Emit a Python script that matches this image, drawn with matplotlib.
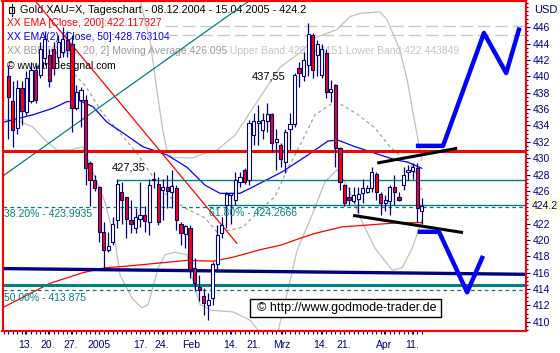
import numpy as np
import matplotlib.pyplot as plt
from matplotlib.patches import Rectangle
from matplotlib.transforms import Affine2D

plt.rcParams['font.family'] = ['Liberation Sans', 'DejaVu Sans']

W, H = 560, 353
NAVY = '#000080'
TEAL = '#008080'

# daily candles 08.12.2004 - 15.04.2005
opens = [440.0, 437.0, 433.7, 438.6, 435.7, 437.0, 440.8, 440.2, 442.2, 442.6,
         443.4, 442.4, 443.0, 444.4, 444.0, 436.1, 437.1, 437.1, 429.4, 427.3,
         426.5, 421.0, 418.8, 419.8, 422.4, 425.9, 425.2, 422.4, 421.4, 422.6,
         423.0, 422.2, 427.3, 426.8, 426.1, 426.5, 425.9, 426.3, 422.0, 420.7,
         421.4, 416.6, 414.2, 413.1, 412.0, 412.9, 417.1, 420.8, 424.3, 425.5,
         424.9, 427.1, 428.6, 427.3, 432.8, 434.3, 433.4, 434.5, 435.4, 432.0,
         431.6, 429.5, 433.6, 434.2, 441.0, 440.0, 441.4, 445.0, 442.6, 440.2,
         442.8, 438.1, 438.9, 431.3, 426.7, 425.3, 424.7, 425.0, 425.7, 425.9,
         426.3, 428.1, 425.6, 424.5, 424.7, 426.5, 425.3, 426.7, 428.3, 428.4,
         428.8, 423.5]
highs = [441.4, 439.4, 439.6, 439.4, 440.6, 441.8, 441.4, 444.2, 445.5, 443.4,
         444.2, 445.1, 446.0, 445.5, 445.1, 438.9, 438.7, 437.7, 429.6, 427.9,
         426.6, 422.2, 421.0, 422.8, 427.5, 427.1, 425.3, 424.9, 423.9, 427.1,
         424.1, 427.5, 428.3, 427.7, 427.5, 427.9, 428.6, 426.7, 422.2, 421.8,
         421.8, 417.8, 415.7, 414.1, 413.5, 417.3, 421.8, 422.8, 425.9, 425.7,
         428.3, 428.3, 428.8, 434.7, 435.5, 436.5, 435.5, 436.7, 435.5, 433.6,
         431.8, 433.6, 435.5, 440.4, 441.8, 443.0, 446.5, 445.3, 444.4, 443.9,
         443.4, 439.6, 439.1, 431.4, 426.9, 426.5, 426.5, 426.5, 427.5, 426.7,
         428.9, 428.3, 425.9, 425.5, 426.7, 427.9, 425.9, 428.9, 429.2, 429.4,
         429.4, 425.1]
lows = [432.4, 431.4, 433.0, 434.1, 435.3, 436.8, 436.8, 439.8, 441.4, 438.7,
        440.2, 441.8, 442.4, 442.4, 433.2, 435.9, 433.8, 426.7, 424.1, 426.0,
        419.8, 416.3, 418.5, 419.4, 421.4, 422.0, 420.2, 420.8, 420.8, 421.6,
        421.0, 420.6, 426.3, 421.8, 422.4, 423.9, 423.9, 421.2, 419.4, 419.0,
        415.3, 413.7, 412.5, 410.8, 410.2, 412.0, 416.1, 420.2, 421.5, 422.0,
        424.3, 426.5, 426.9, 426.7, 431.6, 431.6, 432.4, 433.2, 430.8, 428.6,
        428.9, 428.2, 431.0, 433.8, 438.7, 439.4, 440.0, 439.8, 440.0, 439.8,
        437.3, 436.9, 428.9, 426.1, 424.1, 424.3, 424.5, 423.3, 424.5, 425.7,
        425.9, 424.9, 423.1, 423.5, 423.1, 424.3, 424.7, 426.1, 427.3, 427.5,
        422.2, 422.0]
closes = [437.5, 433.4, 438.6, 435.8, 439.8, 440.8, 437.1, 443.4, 444.6, 439.4,
          441.0, 444.2, 444.6, 443.2, 436.1, 438.1, 438.3, 428.8, 427.3, 426.3,
          421.0, 418.8, 419.2, 422.0, 426.9, 424.9, 422.6, 422.0, 422.8, 423.0,
          422.3, 426.7, 427.4, 422.2, 426.5, 426.0, 426.6, 422.4, 420.8, 421.7,
          416.5, 414.7, 413.9, 412.3, 412.7, 417.1, 420.6, 421.8, 425.6, 425.7,
          427.3, 427.7, 427.1, 434.3, 434.5, 434.5, 434.7, 435.4, 431.8, 432.4,
          429.9, 433.2, 434.2, 440.2, 440.4, 442.0, 445.2, 440.8, 444.0, 443.4,
          438.1, 438.5, 431.2, 427.1, 424.5, 424.9, 425.5, 425.6, 426.3, 426.3,
          428.3, 425.9, 424.5, 424.9, 426.5, 425.9, 424.9, 427.9, 428.5, 428.9,
          423.9, 424.2]

# indicator curves (bar index, price)
ema200_x = [-1.0, 9.2, 16.4, 21.3, 26.1, 39.3, 45.1, 49.5, 55.4, 60.2, 64.2, 67.5, 73.5, 78.5, 85.8, 91.0]
ema200_y = [411.8, 414.7, 416.0, 416.6, 416.8, 417.5, 417.4, 417.9, 418.8, 419.4, 420.2, 420.8, 421.6, 421.8, 422.1, 422.12]
ema50_x = [-1.0, 5.4, 9.8, 12.9, 15.8, 18.6, 21.7, 25.2, 29.6, 34.9, 39.3, 43.3, 46.6, 51.0, 53.9,
           60.2, 66.0, 70.4, 72.6, 76.3, 80.7, 85.1, 88.0, 91.0]
ema50_y = [434.4, 435.3, 436.1, 436.9, 437.0, 436.3, 434.4, 433.1, 431.4, 430.4, 428.9, 426.7, 425.7, 425.7, 426.5,
           428.3, 430.4, 432.1, 432.2, 431.4, 430.6, 429.8, 429.5, 428.76]
bb_up_x = [25.7, 29.0, 31.2, 32.7, 34.0, 34.9, 36.0, 40.4, 43.3, 45.5, 49.9, 55.0, 59.8, 64.2, 67.5,
           72.3, 75.2, 77.4, 81.8, 83.4, 86.2, 87.8, 89.1, 90.2, 91.0]
bb_up_y = [453.0, 449.3, 444.4, 438.3, 433.4, 431.0, 430.1, 430.0, 430.6, 430.8, 432.8, 437.1, 441.1, 442.9, 444.7,
           445.7, 447.3, 447.7, 447.9, 446.9, 443.2, 439.6, 435.5, 432.2, 429.75]
bb_lo_x = [-1.0, 2.6, 5.4, 8.1, 10.7, 13.6, 16.4, 18.4, 21.3, 23.5, 24.6, 27.2, 29.4, 30.8, 33.0, 34.5,
           36.7, 39.3, 40.7, 42.2, 44.8, 49.5, 53.2, 55.8, 59.2, 60.5, 63.6, 66.9, 69.7, 72.4,
           74.8, 77.9, 80.7, 84.5, 86.7, 88.9, 90.2, 91.0]
bb_lo_y = [434.7, 434.5, 433.8, 432.2, 431.0, 431.0, 431.4, 428.6, 424.6, 419.8, 415.7, 412.9, 411.7, 412.1, 416.6, 418.2,
           418.5, 418.2, 414.9, 412.1, 411.4, 411.2, 410.2, 408.4, 408.4, 411.4, 418.8, 423.1, 427.1, 428.6,
           426.4, 422.2, 419.0, 416.3, 416.6, 419.0, 421.0, 422.44]
bb_ma_x = [13.6, 16.9, 20.6, 25.0, 28.6, 31.6, 34.5, 38.9, 43.3, 45.9, 48.8, 51.7, 54.7, 58.7, 61.6,
           64.6, 67.5, 71.3, 73.5, 77.0, 80.7, 84.0, 89.1, 91.0]
bb_ma_y = [440.8, 438.9, 435.6, 432.8, 430.4, 427.9, 425.7, 423.9, 422.7, 421.0, 421.2, 421.6, 423.3, 425.3, 428.8,
           432.0, 435.3, 436.7, 436.5, 435.3, 433.7, 431.4, 428.9, 426.1]

# drawn lines and projections
red_trend = ([5.8, 50.3], [449.3, 419.6])
teal_trend = ([-1.5, 53.2], [427.7, 449.3])
chan_up = ([81.2, 98.8], [429.4, 431.2])
chan_lo = ([75.9, 100.1], [423.0, 420.9])
proj_up = ([90.2, 95.7, 104.7, 109.6, 112.4], [431.5, 431.5, 445.3, 440.4, 445.7])
proj_lo = ([90.6, 94.8, 101.0, 104.3], [421.0, 421.0, 413.6, 417.8])
navy_line = ([-1.3, 114.0], [416.5, 415.8])
red_level = 430.9
teal_level = 414.55
high_level = 427.35
fib382, fib50, fib618 = 423.9935, 413.875, 424.2666
grey_levels = [446.2, 445.0]
last_price = 424.2

tick_pos = [3.7, 8.7, 13.8, 19.9, 29.0, 33.8, 40.3, 48.9, 54.0, 60.2, 68.8, 73.8, 82.7, 88.9]
tick_lab = ['13.', '20.', '27.', '2005', '17.', '24.', 'Feb', '14.', '21.', 'Mrz', '14.', '21.', 'Apr', '11.']

fig = plt.figure(figsize=(W / 100, H / 100), dpi=100)
ax = fig.add_axes([2.5 / W, 1 - 331 / H, 523.5 / W, 330.5 / H])
ax.set_xlim(-1.28, 113.96)
ax.set_ylim(408.87, 449.27)
px = Affine2D().scale(1 / W, -1 / H).translate(0, 1) + fig.transFigure

# bands and averages
ax.plot(bb_up_x, bb_up_y, color='#c0c0c0', lw=0.9, zorder=2)
ax.plot(bb_lo_x, bb_lo_y, color='#c0c0c0', lw=0.9, zorder=2)
ax.plot(bb_ma_x, bb_ma_y, color='#a0a0a0', lw=0.9, ls=(0, (2.5, 2.5)), zorder=2)
ax.plot(ema200_x, ema200_y, color='red', lw=0.9, zorder=2.2)
ax.plot(ema50_x, ema50_y, color='blue', lw=0.9, zorder=2.2)

# horizontal levels
for g in grey_levels:
    ax.plot([34.5, 114], [g, g], color='#c8c8c8', lw=1, ls=(0, (9, 3.5)), zorder=2)
ax.axhline(red_level, color='red', lw=2.2, zorder=2.5)
ax.axhline(teal_level, color=TEAL, lw=2.2, zorder=2.5)
ax.plot(*navy_line, color=NAVY, lw=2.4, zorder=2.5)
ax.plot([24.2, 114], [high_level, high_level], color=TEAL, lw=1, zorder=2.5)
ax.axhline(fib382, color=TEAL, lw=0.9, ls=(0, (3, 2.5)), zorder=2.5)
ax.axhline(fib50, color=TEAL, lw=0.9, ls=(0, (3, 2.5)), zorder=2.5)
ax.plot([44.0, 114], [fib618, fib618], color=TEAL, lw=1, zorder=2.5)
ax.plot(*red_trend, color='red', lw=0.9, zorder=2.3)
ax.plot(*teal_trend, color=TEAL, lw=0.9, zorder=2.3)

# candles
o = np.array(opens)
c = np.array(closes)
idx = np.arange(len(c))
up = c >= o
ax.vlines(idx, lows, highs, color=NAVY, lw=0.9, zorder=4)
ax.bar(idx, np.maximum(np.abs(c - o), 0.15), bottom=np.minimum(o, c), width=0.7,
       color=np.where(up, 'white', 'red'), edgecolor=NAVY, linewidth=0.8, zorder=5)

# channel and projections
ax.plot(*chan_up, color='black', lw=2.2, zorder=6, solid_capstyle='butt')
ax.plot(*chan_lo, color='black', lw=2.2, zorder=6, solid_capstyle='butt')
ax.plot(*proj_up, color='blue', lw=3.2, zorder=6)
ax.plot(*proj_lo, color='blue', lw=3.2, zorder=6)

# labels on the chart
ax.text(53.6, 440.0, '437,55', fontsize=8, va='center', zorder=7)
ax.text(22.8, 428.8, '427,35', fontsize=8, va='center', zorder=7)
ax.text(-0.95, 423.2, '38.20% - 423.9935', color=TEAL, fontsize=7.5, va='center', zorder=7)
ax.text(-0.95, 412.9, '50.00% - 413.875', color=TEAL, fontsize=7.5, va='center', zorder=7)
ax.text(44.2, 423.3, '61.80% - 424.2666', color=TEAL, fontsize=7.5, va='center', zorder=7)

# legend block
kw = dict(transform=px, fontsize=7.5, va='center', zorder=1.5)
ax.text(20, 10, 'Gold XAU=X, Tageschart - 08.12.2004 - 15.04.2005 - 424.2', color='black',
        transform=px, fontsize=7.8, va='center', zorder=1.5)
ax.text(7, 23.5, 'XX EMA [Close, 200]:422.117827', color='red', **kw)
ax.text(7, 37, 'XX EMA(2) [Close, 50]:428.763104', color='blue', **kw)
t1 = ax.text(7, 51.5, 'XX BBD [Close, 20, 2] Moving Average:426.095', color='#9a9a9a', **kw)
ax.annotate(' Upper Band:429.746151 Lower Band:422.443849', xy=(1, 0.5), xycoords=t1,
            va='center', fontsize=7.5, color='#c4c4c4', zorder=1.5)
ax.text(7, 66, '\u00a9 www.tradesignal.com', color='black', **kw)
ax.add_patch(Rectangle((9, 7), 5, 6, transform=px, fill=False, ec='black', lw=0.8, zorder=8, clip_on=False))
ax.plot([11.5, 11.5], [4, 16], transform=px, color='black', lw=0.8, zorder=8, clip_on=False)

ax.add_patch(Rectangle((250, 299), 191, 18, transform=px, fc='white', ec='black', lw=1, zorder=8, clip_on=False))
ax.text(257, 308, '\u00a9 http://www.godmode-trader.de', transform=px, fontsize=9, va='center', zorder=9)

# axes styling
for s in ax.spines.values():
    s.set_color('red')
    s.set_linewidth(1.5)
ax.set_xticks(tick_pos)
ax.set_xticklabels(tick_lab)
ax.set_xticks(np.arange(-1, 92), minor=True)
ax.tick_params(axis='x', which='both', direction='out', length=2.5, width=0.8, color=NAVY,
               labelcolor=NAVY, labelsize=7.5, pad=4)
yt = [v for v in range(410, 447, 2) if v != 424]
ax.yaxis.set_ticks_position('right')
ax.set_yticks(yt)
ax.set_yticklabels([str(v) for v in yt])
ax.set_yticks(np.arange(409, 449.1, 0.5), minor=True)
ax.tick_params(axis='y', which='major', direction='out', length=3, width=0.8, color=NAVY,
               labelcolor=NAVY, labelsize=7.5, pad=2)
ax.tick_params(axis='y', which='minor', direction='out', length=1.5, width=0.8, color=NAVY)
ax.annotate('%.1f' % last_price, xy=(1, last_price), xycoords=('axes fraction', 'data'),
            xytext=(4.5, 0), textcoords='offset points', va='center', fontsize=7.5, color=NAVY,
            bbox=dict(boxstyle='square,pad=0.25', fc='#ffffe0', ec='none'), annotation_clip=False)
fig.text(546, 10, 'USD', transform=px, ha='center', va='center', fontsize=8, color=NAVY)

fig.savefig('out.png', dpi=100)
